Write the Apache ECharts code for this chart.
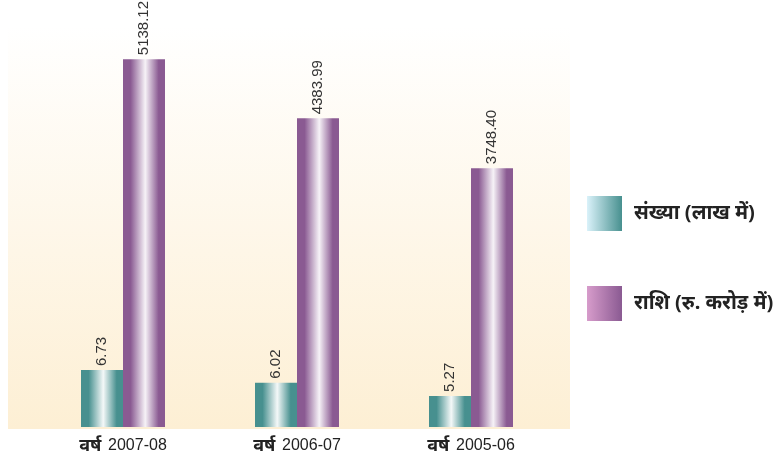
<!DOCTYPE html>
<html>
<head>
<meta charset="utf-8">
<script src="https://cdn.jsdelivr.net/npm/echarts@6/dist/echarts.min.js"></script>
<style>html,body{margin:0;padding:0;background:#fff;}#c{width:779px;height:455px;}</style>
</head>
<body>
<div id="c"></div>
<script>
var categories = ['2007-08', '2006-07', '2005-06'];
var countValues = [6.73, 6.02, 5.27];
var amountValues = [5138.12, 4383.99, 3748.40];
var seriesNames = ['संख्या (लाख में)', 'राशि (रु. करोड़ में)'];
var yearPrefix = 'वर्ष';

var chart = echarts.init(document.getElementById('c'), null, {renderer: 'canvas'});

function barGrad(edge, mid) {
  return new echarts.graphic.LinearGradient(0, 0, 1, 0, [
    {offset: 0, color: edge},
    {offset: 0.18, color: edge},
    {offset: 0.53, color: mid},
    {offset: 0.85, color: edge},
    {offset: 1, color: edge}
  ]);
}
var teal = barGrad('#47908f', '#f4f8f8');
var purple = barGrad('#8a5a92', '#f6f2f7');

var labelStyle = {
  show: true, position: 'top', rotate: 90, align: 'left', verticalAlign: 'middle',
  distance: 4, fontFamily: 'Liberation Sans, Arial, sans-serif', fontSize: 15, color: '#333'
};

chart.setOption({
  animation: false,
  graphic: [{
    type: 'rect', z: -10, silent: true,
    shape: {x: 8, y: 26, width: 562, height: 403},
    style: {fill: new echarts.graphic.LinearGradient(0, 0, 0, 1, [
      {offset: 0, color: '#ffffff'}, {offset: 1, color: '#fdefd4'}])}
  }],
  grid: {left: 36, right: 221, top: 26, bottom: 26},
  legend: {
    orient: 'vertical', left: 587, top: 196, padding: 0, itemWidth: 35, itemHeight: 35, itemGap: 55,
    icon: 'rect',
    textStyle: {fontSize: 20, fontWeight: 'bold', color: '#222', fontFamily: 'Noto Sans, sans-serif', padding: [0, 0, 0, 7]},
    data: [
      {name: seriesNames[0], itemStyle: {color: new echarts.graphic.LinearGradient(0, 0, 1, 0, [
        {offset: 0, color: '#daf2fa'}, {offset: 1, color: '#47908f'}])}},
      {name: seriesNames[1], itemStyle: {color: new echarts.graphic.LinearGradient(0, 0, 1, 0, [
        {offset: 0, color: '#d79ccb'}, {offset: 1, color: '#8a5a92'}])}}
    ]
  },
  xAxis: {
    type: 'category', data: categories,
    axisLine: {show: false}, axisTick: {show: false},
    axisLabel: {
      margin: 10,
      formatter: function (v) { return '{b|' + yearPrefix + '}  {n|' + v + '}'; },
      rich: {
        b: {fontSize: 18, fontWeight: 'bold', color: '#222', fontFamily: 'Noto Sans, sans-serif'},
        n: {fontSize: 16, color: '#222', fontFamily: 'Liberation Sans, Arial, sans-serif'}
      }
    }
  },
  yAxis: [
    {type: 'value', min: 3.518, max: 26.15, show: false, splitLine: {show: false}},
    {type: 'value', min: 450, max: 5561, show: false, splitLine: {show: false}}
  ],
  series: [
    {name: seriesNames[0], type: 'bar', yAxisIndex: 0, data: countValues, barWidth: 42, barGap: '0%',
     itemStyle: {color: teal}, label: Object.assign({}, labelStyle, {formatter: function (p) { return p.value.toFixed(2); }})},
    {name: seriesNames[1], type: 'bar', yAxisIndex: 1, data: amountValues, barWidth: 42, barGap: '0%',
     itemStyle: {color: purple}, label: Object.assign({}, labelStyle, {formatter: function (p) { return p.value.toFixed(2); }})}
  ]
});
</script>
</body>
</html>
